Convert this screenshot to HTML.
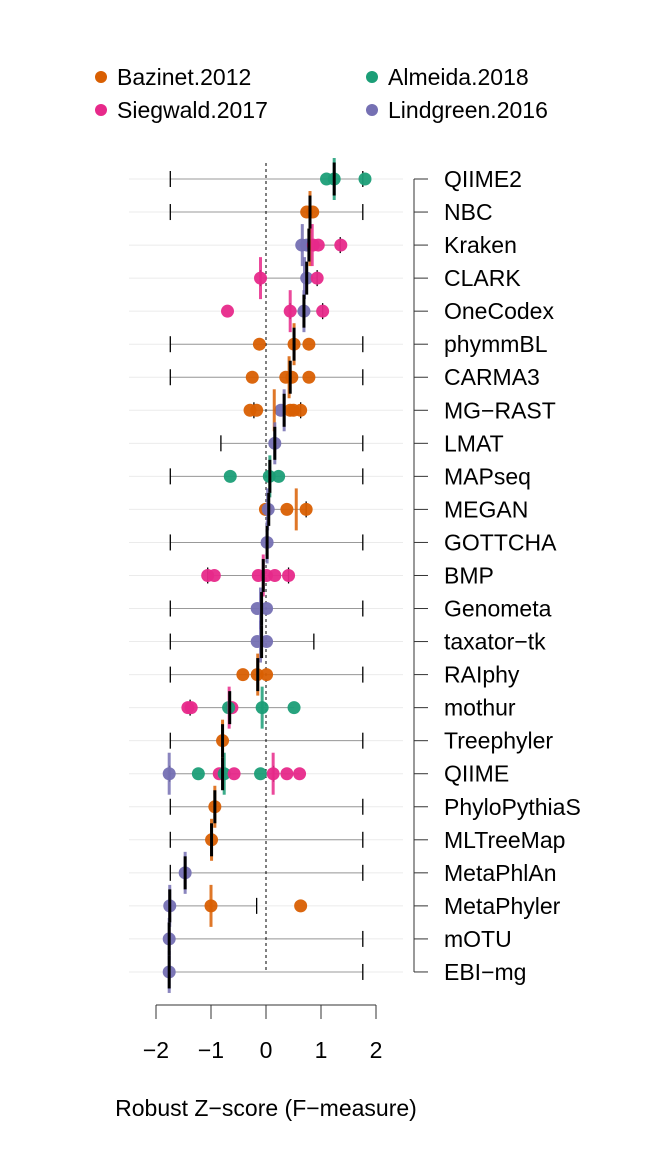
<!DOCTYPE html>
<html><head><meta charset="utf-8"><style>
body{margin:0;background:#fff}
svg{display:block;font-family:"Liberation Sans",sans-serif}
</style></head><body>
<svg id="c" width="648" height="1152"></svg>
<script>
const tools=["QIIME2","NBC","Kraken","CLARK","OneCodex","phymmBL","CARMA3","MG\u2212RAST","LMAT","MAPseq","MEGAN","GOTTCHA","BMP","Genometa","taxator\u2212tk","RAIphy","mothur","Treephyler","QIIME","PhyloPythiaS","MLTreeMap","MetaPhlAn","MetaPhyler","mOTU","EBI\u2212mg"];
const studies=["Bazinet.2012","Siegwald.2017","Almeida.2018","Lindgreen.2016"];
const colors=["#D95F02","#E7298A","#1B9E77","#7570B3"];
// points: [row, study, value]
const points=[[0,2,1.10],[0,2,1.24],[0,2,1.80],[1,0,0.74],[1,0,0.85],[2,3,0.65],[2,3,0.74],[2,1,0.86],[2,1,0.95],[2,1,1.36],
[3,1,-0.10],[3,3,0.74],[3,1,0.93],[4,1,-0.70],[4,1,0.44],[4,3,0.69],[4,1,1.03],[5,0,-0.12],[5,0,0.51],[5,0,0.78],
[6,0,-0.25],[6,0,0.36],[6,0,0.47],[6,0,0.78],[7,0,-0.29],[7,0,-0.17],[7,3,0.27],[7,0,0.44],[7,0,0.50],[7,0,0.63],
[8,3,0.16],[9,2,-0.65],[9,2,0.06],[9,2,0.23],[10,0,-0.01],[10,3,0.04],[10,0,0.38],[10,0,0.73],[11,3,0.02],
[12,1,-1.06],[12,1,-0.94],[12,1,-0.14],[12,1,0.01],[12,1,0.16],[12,1,0.41],[13,3,-0.16],[13,3,0.01],[14,3,-0.16],[14,3,0.01],
[15,0,-0.42],[15,0,-0.16],[15,0,0.01],[16,1,-1.42],[16,1,-1.36],[16,1,-0.62],[16,2,-0.68],[16,2,-0.07],[16,2,0.51],[17,0,-0.79],
[18,3,-1.76],[18,2,-1.23],[18,1,-0.85],[18,2,-0.76],[18,1,-0.58],[18,2,-0.10],[18,1,0.13],[18,1,0.38],[18,1,0.61],
[19,0,-0.93],[20,0,-0.99],[21,3,-1.47],[22,3,-1.75],[22,0,-1.00],[22,0,0.63],[23,3,-1.76],[24,3,-1.76]];
// study medians: [row, study, value]
const studyMed=[[0,2,1.24],[1,0,0.80],[2,3,0.66],[2,0,0.80],[2,1,0.84],[3,1,-0.10],[3,3,0.70],[4,1,0.44],[4,3,0.69],[5,0,0.51],[6,0,0.42],
[7,0,0.15],[7,3,0.33],[8,3,0.16],[9,2,0.07],[10,0,0.55],[10,3,0.03],[11,3,0.02],[12,1,-0.05],[13,3,-0.10],[14,3,-0.10],[15,0,-0.15],
[16,1,-0.67],[16,2,-0.07],[17,0,-0.79],[18,3,-1.76],[18,2,-0.76],[18,1,0.13],[19,0,-0.93],[20,0,-0.99],[21,3,-1.47],[22,3,-1.75],[22,0,-1.00],[23,3,-1.76],[24,3,-1.76]];
const overallMed=[1.24,0.80,0.78,0.74,0.69,0.51,0.44,0.33,0.16,0.07,0.05,0.02,-0.05,-0.08,-0.08,-0.15,-0.66,-0.79,-0.79,-0.93,-0.99,-1.47,-1.75,-1.76,-1.76];
const rangeLo=[-1.74,-1.74,0.65,-0.10,0.44,-1.74,-1.74,-0.29,-0.82,-1.74,-0.01,-1.74,-1.06,-1.74,-1.74,-1.74,-1.39,-1.74,-1.76,-1.74,-1.74,-1.74,-1.75,-1.76,-1.76];
const rangeHi=[1.76,1.76,1.36,0.93,1.03,1.76,1.76,0.63,1.76,1.76,0.73,1.76,0.41,1.76,0.87,1.76,0.51,1.76,0.61,1.76,1.76,1.76,-0.17,1.76,1.76];
const tickMarks=[[0,-1.74],[0,1.76],[1,-1.74],[1,1.76],[2,1.35],[3,-0.10],[3,0.93],[4,0.44],[4,1.03],[5,-1.74],[5,1.76],[6,-1.74],[6,1.76],
[7,-0.22],[7,0.63],[8,-0.82],[8,1.76],[9,-1.74],[9,1.76],[10,0.73],[11,-1.74],[11,1.76],[12,-1.06],[12,0.41],[13,-1.74],[13,1.76],
[14,-1.74],[14,0.87],[15,-1.74],[15,1.76],[16,-1.38],[17,-1.74],[17,1.76],[18,-1.75],[18,0.14],[19,-1.74],[19,1.76],[20,-1.74],[20,1.76],
[21,-1.74],[21,1.76],[22,-1.75],[22,-0.17],[23,-1.76],[23,1.76],[24,-1.76],[24,1.76]];
const xTicks=[-2,-1,0,1,2];
const xTickLabels=["\u22122","\u22121","0","1","2"];

const S="http://www.w3.org/2000/svg",svg=document.getElementById('c');
const X=v=>266+v*55, Y=i=>179+i*33.04;
const FS=23;
function mk(t,a,p){const e=document.createElementNS(S,t);for(const k in a)e.setAttribute(k,a[k]);(p||svg).appendChild(e);return e;}

// legend
const lpos=[[101,77],[101,110],[372,77],[372,110]];
studies.forEach((s,i)=>{
  const g=mk('g',{});
  
  
  mk('circle',{cx:lpos[i][0],cy:lpos[i][1],r:6,fill:colors[i]},g);
  const t=mk('text',{x:lpos[i][0]+16,y:lpos[i][1]+8,'font-size':FS,fill:'#000'},g);t.textContent=s;
});

// grid + ranges
tools.forEach((n,i)=>{
  const g=mk('line',{x1:129,x2:403,y1:Y(i),y2:Y(i),stroke:'#ebebeb','stroke-width':1});
  
  
  const r=mk('line',{x1:X(rangeLo[i]),x2:X(rangeHi[i]),y1:Y(i),y2:Y(i),stroke:'#999','stroke-width':1});
  
  
});
tickMarks.forEach(([i,v])=>{
  const t=mk('line',{x1:X(v),x2:X(v),y1:Y(i)-8,y2:Y(i)+8,stroke:'#000','stroke-width':1.3});
  
  
});
// zero line
const z=mk('line',{x1:X(0),x2:X(0),y1:163,y2:Y(24),stroke:'#000','stroke-width':1,'stroke-dasharray':'3,3'});



// points
points.forEach(([i,s,v])=>{
  const c=mk('circle',{cx:X(v),cy:Y(i),r:6.5,fill:colors[s],'fill-opacity':0.95});
  
  
});
// study medians
studyMed.forEach(([i,s,v])=>{
  const l=mk('line',{x1:X(v),x2:X(v),y1:Y(i)-21,y2:Y(i)+21,stroke:colors[s],'stroke-width':3,'stroke-opacity':0.85});
  
  
});
// overall medians
overallMed.forEach((v,i)=>{
  const l=mk('line',{x1:X(v),x2:X(v),y1:Y(i)-16.5,y2:Y(i)+16.5,stroke:'#000','stroke-width':3});
  
  
});

// right axis
const ra=mk('line',{x1:414,x2:414,y1:Y(0),y2:Y(24),stroke:'#333','stroke-width':1});


tools.forEach((n,i)=>{
  mk('line',{x1:414,x2:428,y1:Y(i),y2:Y(i),stroke:'#333','stroke-width':1});
  const t=mk('text',{x:444,y:Y(i)+8,'font-size':FS,fill:'#000'});
  t.textContent=n;
  
  
});

// x axis
const xa=mk('line',{x1:X(-2),x2:X(2),y1:1005,y2:1005,stroke:'#333','stroke-width':1});


xTicks.forEach((v,k)=>{
  mk('line',{x1:X(v),x2:X(v),y1:1005,y2:1019,stroke:'#333','stroke-width':1});
  const t=mk('text',{x:X(v),y:1058,'font-size':FS,'text-anchor':'middle'});
  t.textContent=xTickLabels[k];
  
  
});
const tt=mk('text',{x:266,y:1116,'font-size':FS,'text-anchor':'middle'});
tt.textContent="Robust Z\u2212score (F\u2212measure)";


</script>
</body></html>
